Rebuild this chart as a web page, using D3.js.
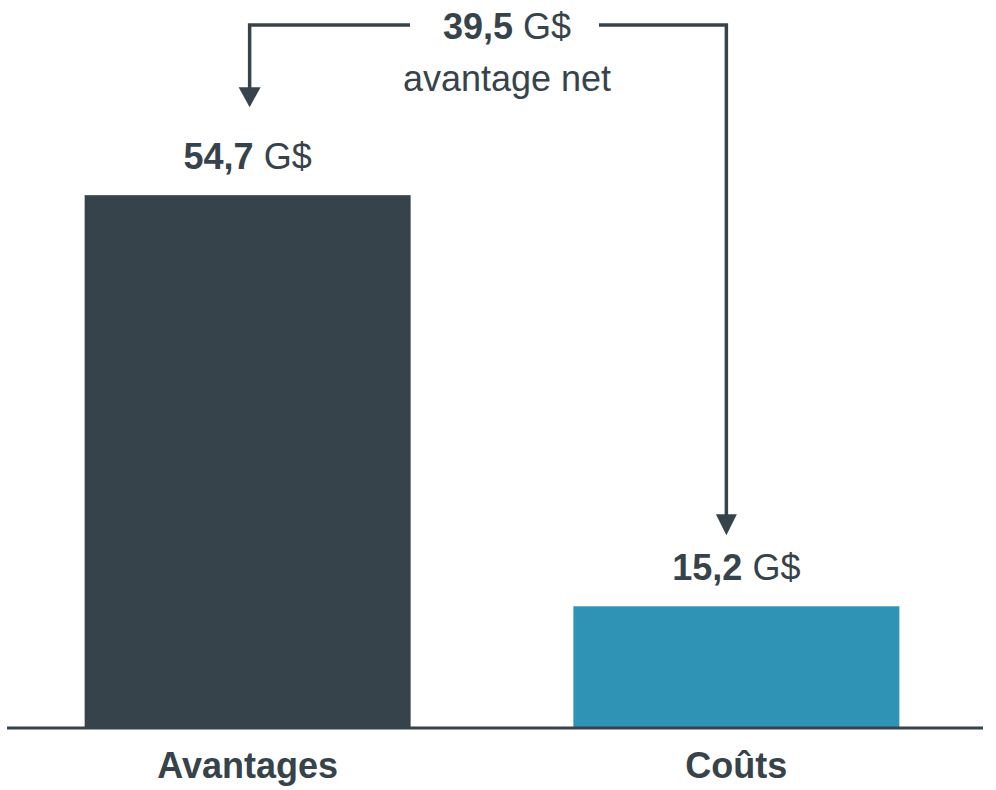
<!DOCTYPE html>
<html>
<head>
<meta charset="utf-8">
<script src="https://cdn.jsdelivr.net/npm/d3@7"></script>
<style>
  html, body { margin: 0; padding: 0; background: #ffffff; }
  svg { display: block; }
  text { font-family: "Liberation Sans", Arial, sans-serif; }
</style>
</head>
<body>
<svg id="chart" width="996" height="790"></svg>
<script>
// ---- data ----
const categories = ["Avantages", "Coûts"];
const values = [54.7, 15.2];
const valueLabels = ["54,7", "15,2"];
const netValue = 39.5;
const netLabel = "39,5";
const unit = "G$";
const netCaption = "avantage net";
const barColors = ["#37434b", "#2e93b4"];

// ---- layout ----
const ink = "#37434b";
const svg = d3.select("#chart");
const baseY = 727;

const x = d3.scaleBand()
  .domain(categories)
  .range([4, 980])
  .paddingInner(0.333)
  .paddingOuter(0.165);

const y = d3.scaleLinear()
  .domain([3.6, 60])
  .range([baseY, 140]);

// bars
svg.selectAll("rect.bar")
  .data(categories)
  .join("rect")
  .attr("class", "bar")
  .attr("x", d => x(d))
  .attr("width", x.bandwidth())
  .attr("y", (d, i) => y(values[i]))
  .attr("height", (d, i) => baseY - y(values[i]))
  .attr("fill", (d, i) => barColors[i]);

// baseline axis
const axis = d3.axisBottom(x).tickSize(0).tickPadding(24);
const gAxis = svg.append("g").attr("transform", `translate(0,${baseY + 1})`).call(axis);
gAxis.select(".domain").attr("stroke", ink).attr("stroke-width", 3)
  .attr("d", "M7,0H983");
gAxis.selectAll(".tick text")
  .attr("fill", ink)
  .attr("font-size", 36)
  .attr("font-weight", "bold")
  .attr("font-family", "'Liberation Sans', Arial, sans-serif")
  .attr("dy", "0.71em");

// value labels
const vl = svg.selectAll("text.vlab")
  .data(categories)
  .join("text")
  .attr("class", "vlab")
  .attr("x", d => x(d) + x.bandwidth() / 2)
  .attr("y", (d, i) => y(values[i]) - 26)
  .attr("text-anchor", "middle")
  .attr("font-size", 36)
  .attr("fill", ink);
vl.append("tspan").attr("font-weight", "bold").text((d, i) => valueLabels[i]);
vl.append("tspan").text(" " + unit);

// net annotation
const cx = (x(categories[0]) + x.bandwidth() / 2 + x(categories[1]) + x.bandwidth() / 2) / 2;
const netText = svg.append("text")
  .attr("x", cx + 15).attr("y", 39)
  .attr("text-anchor", "middle")
  .attr("font-size", 36)
  .attr("fill", ink);
netText.append("tspan").attr("font-weight", "bold").text(netLabel);
netText.append("tspan").text(" " + unit);

svg.append("text")
  .attr("x", cx + 15).attr("y", 91)
  .attr("text-anchor", "middle")
  .attr("font-size", 36)
  .attr("fill", ink)
  .text(netCaption);

// connectors
const leftX = x(categories[0]) + x.bandwidth() / 2 + 2;
const rightX = x(categories[1]) + x.bandwidth() / 2 - 10;
const lineY = 25;
const leftTip = y(values[0]) - 88;
const rightTip = y(values[1]) - 71;

svg.append("path")
  .attr("d", `M410,${lineY}H${leftX}V${leftTip - 18}`)
  .attr("fill", "none").attr("stroke", ink).attr("stroke-width", 3.5);
svg.append("path")
  .attr("d", `M${leftX - 11},${leftTip - 20}L${leftX + 11},${leftTip - 20}L${leftX},${leftTip}Z`)
  .attr("fill", ink);

svg.append("path")
  .attr("d", `M599,${lineY}H${rightX}V${rightTip - 18}`)
  .attr("fill", "none").attr("stroke", ink).attr("stroke-width", 3.5);
svg.append("path")
  .attr("d", `M${rightX - 10.5},${rightTip - 21}L${rightX + 10.5},${rightTip - 21}L${rightX},${rightTip}Z`)
  .attr("fill", ink);
</script>
</body>
</html>
